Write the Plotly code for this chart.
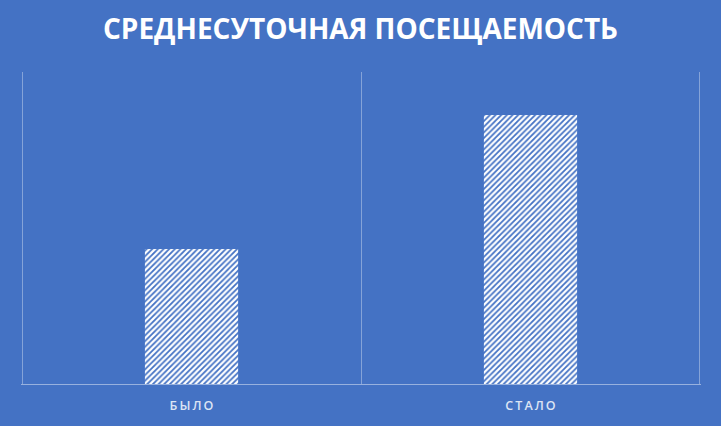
import plotly.graph_objects as go

categories = ["БЫЛО", "СТАЛО"]
values = [43.3, 86.2]
tick_labels = ["Б\u2009Ы\u2009Л\u2009О", "С\u2009Т\u2009А\u2009Л\u2009О"]

BG = "#4472C4"

fig = go.Figure(go.Bar(
    x=categories,
    y=values,
    width=0.275,
    marker=dict(
        color=BG,
        line=dict(width=0),
        pattern=dict(shape="/", fgcolor="white", bgcolor=BG, size=4, solidity=0.55, fillmode="replace"),
    ),
    hoverinfo="skip",
))

fig.update_layout(
    width=721, height=426,
    paper_bgcolor=BG, plot_bgcolor=BG,
    margin=dict(l=21, r=20, t=72, b=42),
    showlegend=False,
    title=dict(
        text="<b>СРЕДНЕСУТОЧНАЯ ПОСЕЩАЕМОСТЬ</b>",
        x=0.5, xanchor="center", y=0.932, yanchor="middle",
        font=dict(family="Open Sans", size=28, color="white"),
    ),
)
fig.update_xaxes(
    type="category",
    tickson="boundaries",
    tickvals=categories,
    ticktext=tick_labels,
    range=[-0.503, 1.503],
    ticks="",
    ticklabelstandoff=12,
    showgrid=True,
    gridcolor="rgba(255,255,255,0.35)",
    gridwidth=1,
    showline=False,
    tickfont=dict(family="Open Sans", size=12.5, color="#DCE4F4", weight=600),
    fixedrange=True,
)
fig.update_yaxes(
    range=[0, 100],
    showticklabels=False,
    showgrid=False,
    zeroline=True,
    zerolinecolor="rgba(255,255,255,0.45)",
    zerolinewidth=1,
    fixedrange=True,
)

fig.write_html(
    "out.html",
    config={"displayModeBar": False},
    post_script="document.body.style.margin='0';document.documentElement.style.background='%s';" % BG,
)
